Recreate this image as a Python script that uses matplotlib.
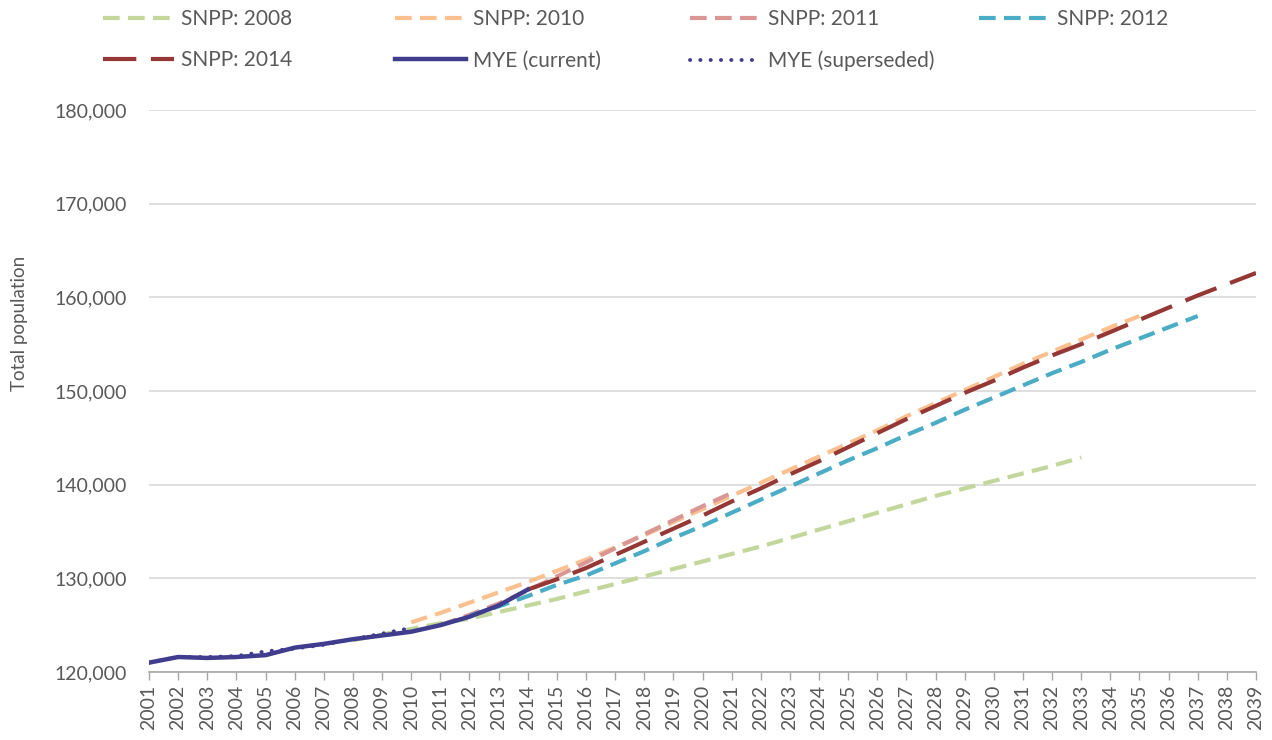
import matplotlib.pyplot as plt
from matplotlib.ticker import FuncFormatter, MultipleLocator

plt.rcParams['font.family'] = ['Lato', 'DejaVu Sans']

TEXT = "#595959"

# MYE series
mye_years = list(range(2001, 2015))
mye_current = [121000, 121600, 121500, 121600, 121800, 122600, 123000,
               123500, 123900, 124300, 125000, 125900, 127100, 128800]
sup_years = list(range(2001, 2011))
mye_superseded = [121000, 121600, 121600, 121700, 122200, 122500, 122900,
                  123500, 124100, 124700]

# projections
snpp08_years = list(range(2008, 2034))
snpp08 = [123400, 124000, 124600, 125200, 125700, 126400, 127100, 127800,
          128600, 129400, 130200, 131000, 131800, 132600, 133400, 134300,
          135200, 136100, 137000, 137900, 138800, 139600, 140400, 141200,
          142000, 142900]
snpp10_years = list(range(2010, 2036))
snpp10 = [125300, 126300, 127400, 128500, 129600, 130800, 132000, 133300,
          134600, 136000, 137400, 138800, 140200, 141600, 143000, 144400,
          145800, 147300, 148700, 150100, 151500, 152900, 154200, 155500,
          156800, 158000]
snpp11_years = list(range(2011, 2022))
snpp11 = [125000, 126100, 127300, 128700, 130200, 131700, 133200, 134700,
          136200, 137700, 139100]
snpp12_years = list(range(2012, 2038))
snpp12 = [126000, 127000, 128100, 129300, 130300, 131600, 132900, 134300,
          135600, 137000, 138400, 139800, 141200, 142600, 143900, 145300,
          146600, 148000, 149300, 150600, 151900, 153100, 154400, 155600,
          156800, 158000]
snpp14_years = list(range(2014, 2040))
snpp14 = [128800, 129900, 131100, 132500, 133900, 135300, 136700, 138200,
          139600, 141100, 142500, 144000, 145500, 147000, 148400, 149800,
          151100, 152500, 153800, 155000, 156300, 157600, 158900, 160200,
          161400, 162600]

fig = plt.figure(figsize=(12.72, 7.40), dpi=100)
ax = fig.add_axes([149 / 1272, 1 - 672 / 740, 1107 / 1272, 562 / 740])

lw = 3.0
short_dash = (4, 2)
ax.plot(snpp08_years, snpp08, color="#c3d69b", lw=lw, dashes=short_dash, label="SNPP: 2008")
ax.plot(snpp10_years, snpp10, color="#fac090", lw=lw, dashes=short_dash, label="SNPP: 2010")
ax.plot(snpp11_years, snpp11, color="#d99694", lw=lw, dashes=short_dash, label="SNPP: 2011")
ax.plot(snpp12_years, snpp12, color="#4bacc6", lw=lw, dashes=short_dash, label="SNPP: 2012")
ax.plot(snpp14_years, snpp14, color="#953735", lw=lw, dashes=(8, 3.5), label="SNPP: 2014")
ax.plot(mye_years, mye_current, color="#403c8e", lw=3.2, label="MYE (current)")
ax.plot(sup_years, mye_superseded, color="#403c8e", lw=2.8,
        linestyle=(0, (0.05, 2.6)), dash_capstyle="round", label="MYE (superseded)")

ax.set_xlim(2001, 2039)
ax.set_ylim(120000, 180000)
ax.xaxis.set_major_locator(MultipleLocator(1))
ax.yaxis.set_major_locator(MultipleLocator(10000))
ax.yaxis.set_major_formatter(FuncFormatter(lambda v, p: f"{int(v):,}"))
ax.tick_params(axis="x", rotation=90, length=6, width=1, color="#a6a6a6",
               labelcolor=TEXT, labelsize=14, pad=3)
ax.tick_params(axis="y", length=0, labelcolor=TEXT, labelsize=14, pad=16)
ax.grid(axis="y", color="#d9d9d9", lw=1.2)
ax.set_axisbelow(True)
for s in ["left", "right", "top"]:
    ax.spines[s].set_visible(False)
ax.spines["bottom"].set_color("#a6a6a6")
ax.spines["bottom"].set_linewidth(1.2)

ax.set_ylabel("Total population", color=TEXT, fontsize=13.5)
ax.yaxis.set_label_coords(-0.109, 0.62)

# legend laid out in four fixed columns like the original
handles, labels = ax.get_legend_handles_labels()
lookup = dict(zip(labels, handles))
columns = [(103, ["SNPP: 2008", "SNPP: 2014"]),
           (395, ["SNPP: 2010", "MYE (current)"]),
           (690, ["SNPP: 2011", "MYE (superseded)"]),
           (979, ["SNPP: 2012"])]
for x0, names in columns:
    fig.legend([lookup[n] for n in names], names, loc="upper left",
               bbox_to_anchor=(x0 / 1272, 1 - 9 / 740), frameon=False,
               borderpad=0, borderaxespad=0, fontsize=15, labelcolor=TEXT,
               handlelength=3.4, handletextpad=0.33, labelspacing=1.03)

fig.savefig("out.png", dpi=100)
